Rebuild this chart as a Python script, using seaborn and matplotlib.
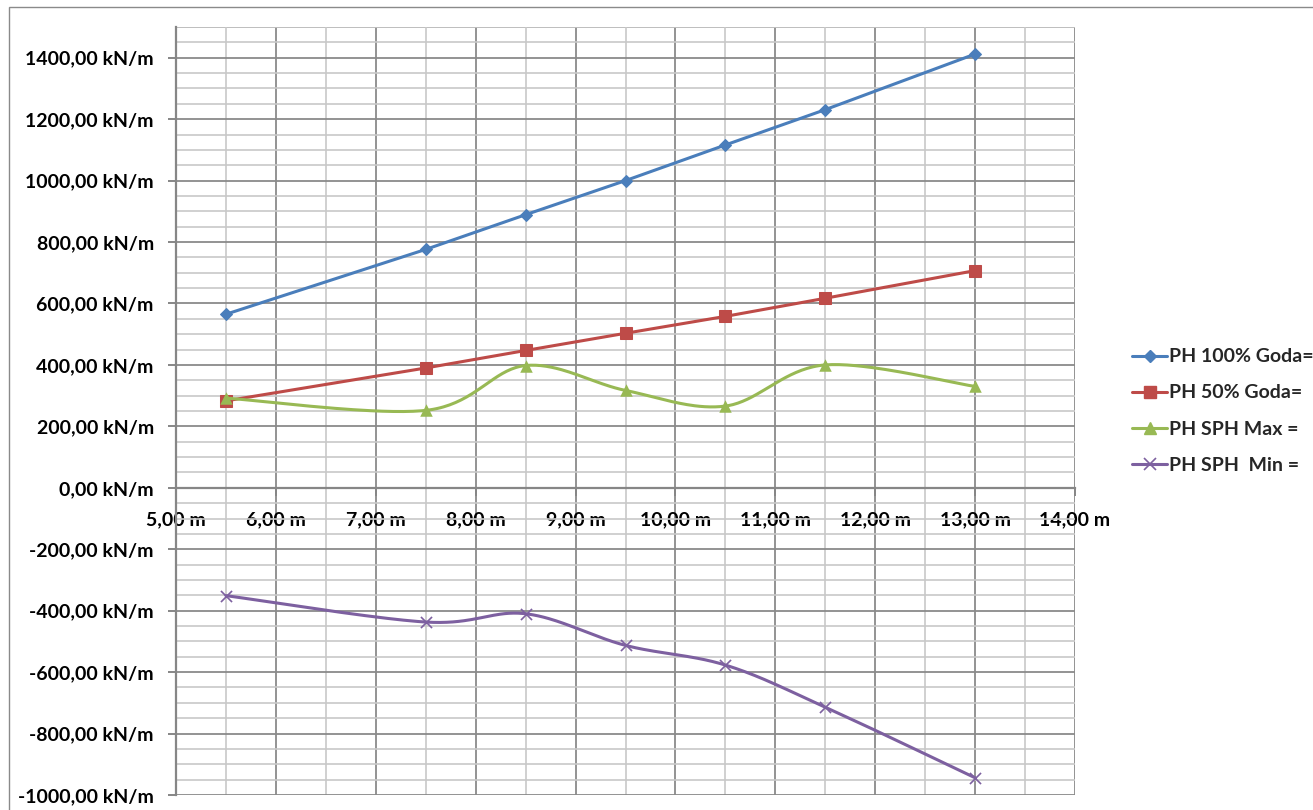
import numpy as np
import pandas as pd
import seaborn as sns
import matplotlib
matplotlib.use("Agg")
import matplotlib.pyplot as plt
from matplotlib.lines import Line2D
from matplotlib.patches import Rectangle
from matplotlib.ticker import MultipleLocator

# ---- data -------------------------------------------------------------
depth = [5.5, 7.5, 8.5, 9.5, 10.5, 11.5, 13.0]
goda_100 = [565, 776, 889, 1000, 1116, 1231, 1412]
goda_50 = [283, 390, 447, 503, 558, 617, 707]
sph_max = [292, 252, 398, 317, 266, 400, 330]
sph_min = [-351, -437, -410, -513, -577, -714, -944]

series_names = ["PH 100% Goda=", "PH 50% Goda=", "PH SPH Max =", "PH SPH  Min ="]

x_ticks = [5, 6, 7, 8, 9, 10, 11, 12, 13, 14]
x_tick_labels = ["5,00 m", "6,00 m", "7,00 m", "8,00 m", "9,00 m", "10,00 m",
                 "11,00 m", "12,00 m", "13,00 m", "14,00 m"]
y_ticks = [-1000, -800, -600, -400, -200, 0, 200, 400, 600, 800, 1000, 1200, 1400]
y_tick_labels = ["-1000,00 kN/m", "-800,00 kN/m", "-600,00 kN/m", "-400,00 kN/m",
                 "-200,00 kN/m", "0,00 kN/m", "200,00 kN/m", "400,00 kN/m",
                 "600,00 kN/m", "800,00 kN/m", "1000,00 kN/m", "1200,00 kN/m",
                 "1400,00 kN/m"]

# ---- styles -----------------------------------------------------------
BLUE, RED, GREEN, PURPLE = "#4A7EBB", "#BE4B48", "#98B954", "#7D60A0"
MAJOR_GRID, MINOR_GRID, AXIS_GREY = "#8A8A8A", "#C8C8C8", "#868686"
FONT = ["Lato", "DejaVu Sans"]
FSIZE = 14

sns.set_theme(style="white")
plt.rcParams["font.family"] = FONT
plt.rcParams["font.weight"] = "bold"


def smooth_curve(xs, ys, n=40):
    """Bezier smoothing through the points (spreadsheet-style smoothed line)."""
    p = np.column_stack([xs, ys]).astype(float)
    ext = np.vstack([p[0], p, p[-1]])
    out = []
    t = np.linspace(0, 1, n)[:, None]
    for i in range(len(p) - 1):
        p0, p1 = ext[i + 1], ext[i + 2]
        c1 = p0 + (ext[i + 2] - ext[i]) / 6.0
        c2 = p1 - (ext[i + 3] - ext[i + 1]) / 6.0
        seg = ((1 - t) ** 3) * p0 + 3 * ((1 - t) ** 2) * t * c1 \
            + 3 * (1 - t) * t ** 2 * c2 + t ** 3 * p1
        out.append(seg if i == 0 else seg[1:])
    c = np.vstack(out)
    return c[:, 0], c[:, 1]


fig = plt.figure(figsize=(13.13, 8.10), dpi=100)
W, H = 1313, 810
ax = fig.add_axes([176 / W, 1 - 795 / H, 899 / W, 768 / H])

# outer chart frame
fig.patches.append(Rectangle((9 / W, -0.1), 1.2, 1 - 7 / H + 0.1,
                             transform=fig.transFigure, fill=False,
                             edgecolor="#8A8A8A", linewidth=1.0, zorder=0))

ax.set_xlim(5, 14)
ax.set_ylim(-1000, 1500)

# gridlines
ax.xaxis.set_minor_locator(MultipleLocator(0.5))
ax.yaxis.set_minor_locator(MultipleLocator(50))
ax.set_xticks(x_ticks)
ax.set_yticks(y_ticks)
ax.grid(which="minor", color=MINOR_GRID, linewidth=1.2, zorder=0)
ax.grid(which="major", color=MAJOR_GRID, linewidth=1.3, zorder=0)
ax.set_axisbelow(True)
ax.axhline(1500, color=MAJOR_GRID, linewidth=1.3, zorder=0)

# spines
for s in ["top", "right"]:
    ax.spines[s].set_visible(False)
ax.spines["left"].set_color(AXIS_GREY)
ax.spines["left"].set_linewidth(1.6)
ax.spines["bottom"].set_color(AXIS_GREY)
ax.spines["bottom"].set_linewidth(1.6)
ax.spines["bottom"].set_position(("data", 0))

ax.set_xticklabels(x_tick_labels)
ax.set_yticklabels(y_tick_labels)
ax.tick_params(axis="y", which="major", direction="out", length=6, width=1.4,
               color=AXIS_GREY, left=True, pad=10, labelsize=FSIZE)
ax.tick_params(axis="x", which="major", direction="out", length=6, width=1.4,
               color=AXIS_GREY, bottom=True, pad=11, labelsize=FSIZE)
ax.tick_params(which="minor", length=0)
for lab in ax.get_xticklabels() + ax.get_yticklabels():
    lab.set_fontweight("bold")
    lab.set_color("black")

# straight series
df = pd.DataFrame({"x": depth, "g100": goda_100, "g50": goda_50})
sns.lineplot(data=df, x="x", y="g100", ax=ax, color=BLUE, linewidth=2.2,
             marker="D", markersize=6.5, markeredgecolor=BLUE, zorder=5)
sns.lineplot(data=df, x="x", y="g50", ax=ax, color=RED, linewidth=2.2,
             marker="s", markersize=8, markeredgecolor=RED, zorder=5)

# smoothed series
for ys, col, mk, ms in [(sph_max, GREEN, "^", 9), (sph_min, PURPLE, "x", 8)]:
    sx, sy = smooth_curve(depth, ys)
    sns.lineplot(x=sx, y=sy, ax=ax, color=col, linewidth=2.2, sort=False,
                 estimator=None, zorder=5)
    if mk == "x":
        sns.scatterplot(x=depth, y=ys, ax=ax, color=col, marker=mk, s=ms ** 2,
                        linewidth=1.2, zorder=6)
    else:
        sns.scatterplot(x=depth, y=ys, ax=ax, color=col, marker=mk, s=ms ** 2,
                        edgecolor=col, linewidth=0, zorder=6)

ax.set_xlabel("")
ax.set_ylabel("")

handles = [
    Line2D([], [], color=BLUE, lw=2.2, marker="D", ms=6, mec=BLUE),
    Line2D([], [], color=RED, lw=2.2, marker="s", ms=8, mec=RED),
    Line2D([], [], color=GREEN, lw=2.2, marker="^", ms=8, mec=GREEN),
    Line2D([], [], color=PURPLE, lw=2.2, marker="x", ms=8, mew=1.2),
]
fig.legend(handles, series_names, loc="center left",
           bbox_to_anchor=(1132 / W, 1 - 411 / H), frameon=False,
           handlelength=1.8, handletextpad=0.1, labelspacing=0.98,
           borderaxespad=0, borderpad=0,
           prop={"family": FONT, "weight": "bold", "size": FSIZE})

fig.savefig("out.png", dpi=100)
